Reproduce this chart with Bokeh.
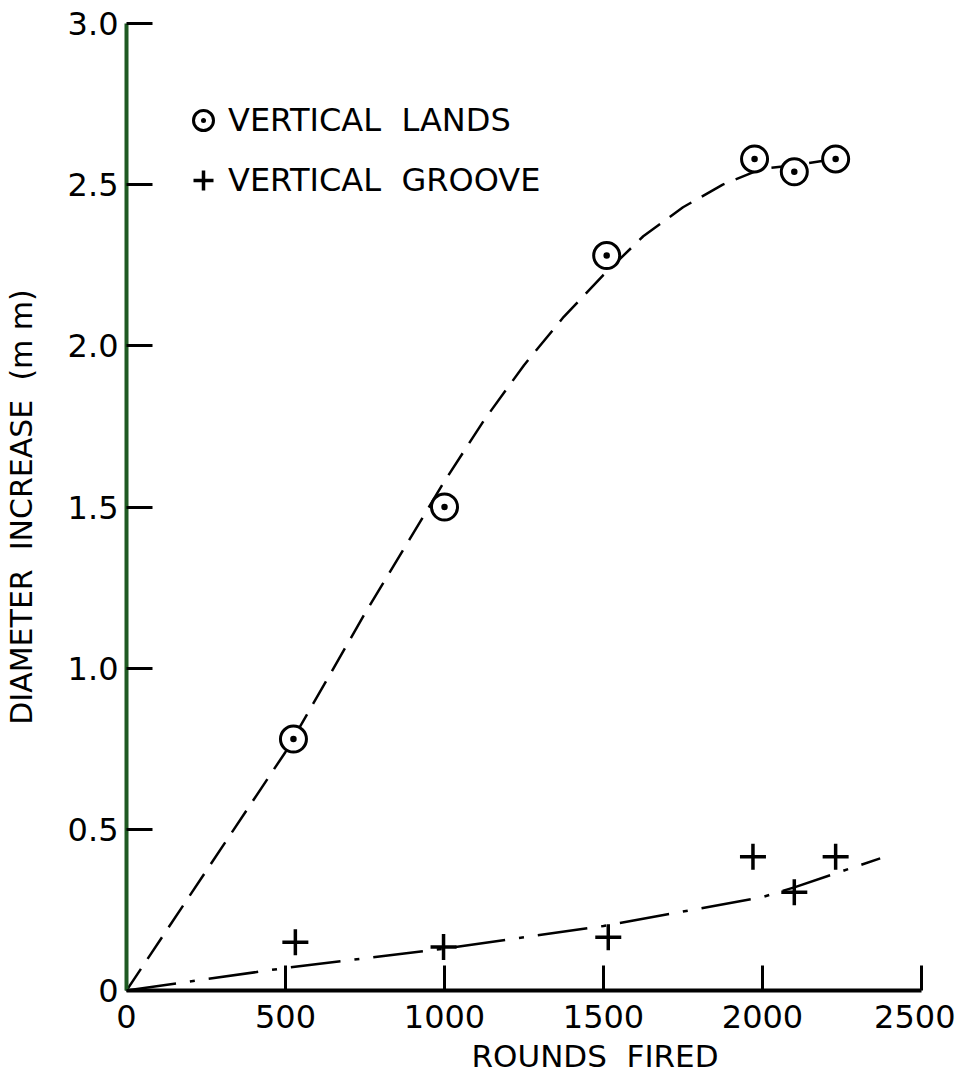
from bokeh.plotting import figure
from bokeh.models import Range1d, FixedTicker, Legend, LegendItem, Title
from bokeh.embed import file_html
from bokeh.resources import INLINE

# ---- data ----
lands_x = [525, 1000, 1510, 1975, 2100, 2230]
lands_y = [0.78, 1.50, 2.28, 2.58, 2.54, 2.58]

groove_x = [531, 997, 1515, 1970, 2100, 2230]
groove_y = [0.15, 0.135, 0.165, 0.415, 0.305, 0.415]

lands_fit_x = [0, 250, 500, 750, 1000, 1125, 1250, 1375, 1500, 1625, 1750, 1875, 2000, 2100, 2230]
lands_fit_y = [0.0, 0.37, 0.74, 1.17, 1.58, 1.77, 1.94, 2.09, 2.22, 2.34, 2.43, 2.50, 2.55, 2.56, 2.58]

groove_fit_x = [0, 500, 1000, 1500, 2000, 2100, 2370]
groove_fit_y = [0.0, 0.07, 0.13, 0.20, 0.29, 0.32, 0.41]

x_ticks = [0, 500, 1000, 1500, 2000, 2500]
y_ticks = [0, 0.5, 1.0, 1.5, 2.0, 2.5, 3.0]
y_tick_labels = ["0", "0.5", "1.0", "1.5", "2.0", "2.5", "3.0"]

FONT = "DejaVu Sans"
NB = "\u00a0"

p = figure(width=955, height=1078, output_backend="svg", toolbar_location=None,
           x_range=Range1d(0, 2500), y_range=Range1d(0, 3.0),
           min_border_left=117, min_border_right=34, min_border_top=23,
           min_border_bottom=88)
p.outline_line_color = None
p.grid.visible = False
p.background_fill_color = "white"
p.border_fill_color = "white"

# axes
p.xaxis.ticker = FixedTicker(ticks=x_ticks)
p.yaxis.ticker = FixedTicker(ticks=y_ticks)
p.yaxis.major_label_overrides = {t: s for t, s in zip(y_ticks, y_tick_labels)}
for ax in (p.xaxis[0], p.yaxis[0]):
    ax.major_tick_out = 0
    ax.minor_tick_in = 0
    ax.minor_tick_out = 0
    ax.major_tick_line_color = "black"
    ax.major_tick_line_width = 3
    ax.axis_line_width = 4
    ax.major_label_text_font = FONT
    ax.major_label_text_font_size = "32px"
    ax.major_label_text_color = "black"
    ax.axis_label_text_font = FONT
    ax.axis_label_text_font_style = "normal"
    ax.axis_label_text_color = "black"
p.xaxis.axis_line_color = "black"
p.yaxis.axis_line_color = "#1f5a22"
p.xaxis.major_tick_in = 25
p.yaxis.major_tick_in = 26
p.xaxis.major_label_standoff = 14
p.yaxis.major_label_standoff = 8

p.yaxis.axis_label = f"DIAMETER{NB}{NB}INCREASE{NB}{NB}(m{NB}m)"
p.yaxis.axis_label_text_font_size = "30px"
p.yaxis.axis_label_standoff = 26

# fitted curves
p.line(lands_fit_x, lands_fit_y, line_color="black", line_width=2.5, line_dash="26 12")
p.line(groove_fit_x, groove_fit_y, line_color="black", line_width=2.5, line_dash="50 14 5 14")

# points
r_lands = p.scatter(lands_x, lands_y, marker="circle_dot", size=26, line_color="black",
                    line_width=3, fill_color="white")
r_groove = p.scatter(groove_x, groove_y, marker="cross", size=26, line_color="black",
                     line_width=3.5)

legend = Legend(items=[
    LegendItem(label=f"VERTICAL{NB}{NB}LANDS", renderers=[r_lands]),
    LegendItem(label=f"VERTICAL{NB}{NB}GROOVE", renderers=[r_groove]),
], location=(52, 780))
legend.glyph_width = 50
legend.glyph_height = 60
legend.spacing = 0
legend.padding = 0
legend.margin = 0
legend.label_standoff = 0
legend.label_text_font = FONT
legend.label_text_font_size = "32px"
legend.label_text_color = "black"
legend.border_line_color = None
legend.background_fill_alpha = 0
p.add_layout(legend)

xtitle = Title(text=f"ROUNDS{NB}{NB}FIRED", text_font=FONT, text_font_size="31px",
               text_font_style="normal", text_color="black", align="left",
               vertical_align="bottom", offset=345, standoff=10)
p.add_layout(xtitle, "below")

open("out.html", "w").write(file_html(p, INLINE))
